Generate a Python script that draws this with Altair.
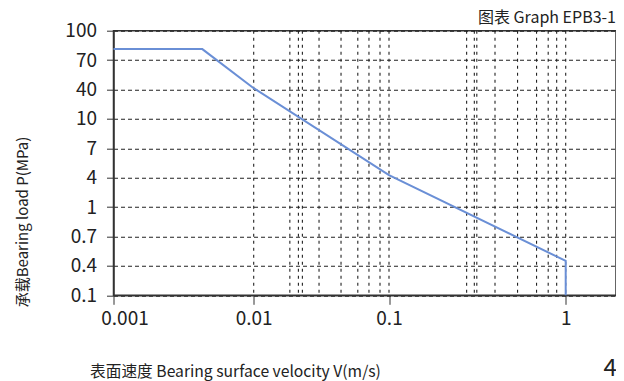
import altair as alt
import pandas as pd

# ---- data ----
v_line = [0.001, 0.0043, 0.01, 0.1, 1.0, 1.0]
p_line = [80, 80, 41, 4.2, 0.44, 0.1]

x_ticks = [0.001, 0.01, 0.1, 1]
y_ticks = [0.1, 0.4, 0.7, 1, 4, 7, 10, 40, 70, 100]
v_grid = [0.01, 0.0185, 0.0214, 0.0229, 0.0304, 0.0442, 0.0588, 0.0711, 0.0858,
          0.1, 0.275, 0.304, 0.314, 0.398, 0.534, 0.684, 0.796, 0.889, 1.0]

FONT = "Noto Sans CJK SC"
W, H = 502.5, 264.6
x_domain = [0.001, 0.01, 0.1, 1, 2]
x_range = [0, 140.2, 275.5, 452.2, W]
y_range = [H - i * H / 9 for i in range(len(y_ticks))]

xscale = alt.Scale(type="log", domain=x_domain, range=x_range, nice=False)
yscale = alt.Scale(type="log", domain=y_ticks, range=y_range, nice=False)

x_axis = alt.Axis(
    values=x_ticks, format="~g", grid=False, tickSize=9, labelFlush=False,
    labelFontSize=19, labelPadding=5, labelColor="#222", labelFont=FONT,
    labelOffset={"condition": {"test": "datum.value < 0.002", "value": 11}, "value": 0},
    title="表面速度 Bearing surface velocity V(m/s)",
    titleFont=FONT, titleFontSize=15.7, titleFontWeight="normal", titleColor="#222",
    titleX=121.5, titleY=76.5, titleAlign="center", titleBaseline="middle",
    domainColor="#333", tickColor="#333", domainWidth=1.5,
)
y_axis = alt.Axis(
    values=y_ticks, format="~g", grid=True, gridDash=[4, 3], gridColor="#222",
    gridWidth=1.1, tickSize=7,
    labelFontSize=19, labelPadding=10, labelColor="#222", labelFont=FONT,
    title="承载Bearing load P(MPa)",
    titleFont=FONT, titleFontSize=15, titleFontWeight="normal", titleColor="#222",
    titleX=-91, titleY=190.8, titleAngle=270, titleAlign="center", titleBaseline="middle",
    domainColor="#333", tickColor="#333", domainWidth=1.5,
)

line_df = pd.DataFrame({"V": v_line, "P": p_line})
grid_df = pd.DataFrame({"V": v_grid})

grid = alt.Chart(grid_df).mark_rule(
    color="#222", strokeDash=[3, 4], strokeWidth=1.1
).encode(x=alt.X("V:Q", scale=xscale, axis=x_axis))

line = alt.Chart(line_df).mark_line(color="#6a8fd6", strokeWidth=2).encode(
    x=alt.X("V:Q", scale=xscale, axis=x_axis),
    y=alt.Y("P:Q", scale=yscale, axis=y_axis),
    order=alt.Order("idx:Q"),
).transform_window(idx="row_number()")

page = alt.Chart(pd.DataFrame({"t": ["4"]})).mark_text(
    align="left", baseline="top", fontSize=24, font=FONT, color="#222"
).encode(text="t:N", x=alt.value(490), y=alt.value(326))

chart = alt.layer(grid, line, page).properties(
    width=W, height=H,
    background="white",
    title=alt.TitleParams(
        text="图表 Graph EPB3-1", anchor="end", frame="group", fontSize=16,
        font=FONT, fontWeight="normal", color="#222", offset=-4,
    ),
    autosize=alt.AutoSizeParams(type="none"),
    padding={"left": 105.5, "top": 22.7, "right": 0, "bottom": 85.7},
).configure_view(stroke="#333", strokeWidth=1.5)

chart.save("out.html", embed_options={"renderer": "svg", "actions": False})
